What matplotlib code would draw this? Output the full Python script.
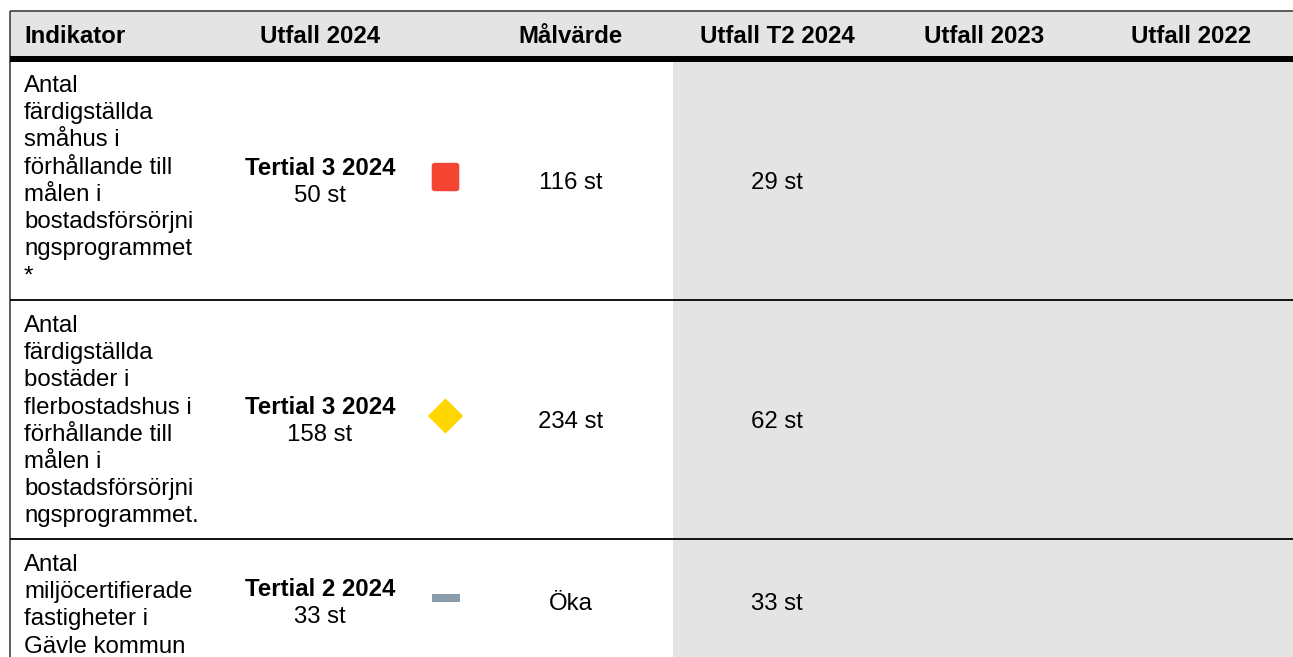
import matplotlib
matplotlib.use("Agg")
import matplotlib.pyplot as plt
from matplotlib.patches import Rectangle, FancyBboxPatch, Polygon

# ---------------- data ----------------
headers = ["Indikator", "Utfall 2024", "Målvärde", "Utfall T2 2024", "Utfall 2023", "Utfall 2022"]
indicators = [
    ["Antal", "färdigställda", "småhus i", "förhållande till", "målen i",
     "bostadsförsörjni", "ngsprogrammet", "*"],
    ["Antal", "färdigställda", "bostäder i", "flerbostadshus i", "förhållande till",
     "målen i", "bostadsförsörjni", "ngsprogrammet."],
    ["Antal", "miljöcertifierade", "fastigheter i", "Gävle kommun"],
]
periods = ["Tertial 3 2024", "Tertial 3 2024", "Tertial 2 2024"]
outcomes = ["50 st", "158 st", "33 st"]
statuses = ["red", "yellow", "neutral"]
targets = ["116 st", "234 st", "Öka"]
outcome_t2 = ["29 st", "62 st", "33 st"]
outcome_2023 = ["", "", ""]
outcome_2022 = ["", "", ""]

# ---------------- layout ----------------
W, H = 1293, 657
FONT = ["Liberation Sans", "DejaVu Sans"]
FS = 17.28  # 24 px at 100 dpi
GRAY = "#E4E4E4"
LINE_H = 27.2

fig = plt.figure(figsize=(W / 100, H / 100), dpi=100)
ax = fig.add_axes([0, 0, 1, 1])
ax.set_xlim(0, W)
ax.set_ylim(H, 0)
ax.axis("off")

left = 10
top = 11
header_bottom = 56
row_tops = [61, 301, 540]
row_bottoms = [299.5, 538.5, 700]
row_centers = [180.5, 419.5, 601.5]
gray_x = 673

col_text_x = [24, 320, 571, 777, 984, 1191]
icon_x = 445.5

# header background
ax.add_patch(Rectangle((left, top), W - left, header_bottom - top, facecolor=GRAY, edgecolor="none", zorder=0))
# gray columns body
ax.add_patch(Rectangle((gray_x, header_bottom), W - gray_x, H - header_bottom, facecolor=GRAY, edgecolor="none", zorder=0))

# borders
ax.plot([left, W], [top, top], color="#333333", lw=1.1, zorder=3, solid_capstyle="butt")
ax.plot([left, left], [top, H], color="#333333", lw=1.1, zorder=3, solid_capstyle="butt")
ax.add_patch(Rectangle((left, header_bottom), W - left, 5.5, facecolor="black", edgecolor="none", zorder=3))
for rb in row_bottoms[:2]:
    ax.plot([left, W], [rb, rb], color="black", lw=1.3, zorder=3, solid_capstyle="butt")

# header text
for i, h in enumerate(headers):
    ha = "left" if i == 0 else "center"
    ax.text(col_text_x[i], 43, h, ha=ha, va="baseline", fontsize=FS, fontweight="bold", family=FONT, color="black")

status_colors = {"red": "#F44432", "yellow": "#FFD600", "neutral": "#8A9BAB"}

for r in range(len(indicators)):
    t = row_tops[r]
    c = row_centers[r]
    # indicator lines
    for k, line in enumerate(indicators[r]):
        ax.text(col_text_x[0], t + 31 + k * LINE_H, line, ha="left", va="baseline",
                fontsize=FS, family=FONT, color="black")
    # outcome 2024
    ax.text(col_text_x[1], c - 5.5, periods[r], ha="center", va="baseline",
            fontsize=FS, fontweight="bold", family=FONT, color="black")
    ax.text(col_text_x[1], c + 21.5, outcomes[r], ha="center", va="baseline",
            fontsize=FS, family=FONT, color="black")
    # status icon
    iy = c - 3.5
    s = statuses[r]
    col = status_colors[s]
    if s == "red":
        ax.add_patch(FancyBboxPatch((icon_x - 13.8, iy - 14.2), 27.6, 28.4,
                                    boxstyle="round,pad=0,rounding_size=3",
                                    facecolor=col, edgecolor="none", zorder=4))
    elif s == "yellow":
        d = 16.5
        ax.add_patch(Polygon([(icon_x, iy - d), (icon_x + d, iy), (icon_x, iy + d), (icon_x - d, iy)],
                             closed=True, facecolor=col, edgecolor=col, lw=1.2,
                             joinstyle="round", zorder=4))
    else:
        ax.add_patch(Rectangle((icon_x - 14, iy - 4), 28, 8, facecolor=col, edgecolor="none", zorder=4))
    # target
    ax.text(col_text_x[2], c + 8.5, targets[r], ha="center", va="baseline",
            fontsize=FS, family=FONT, color="black")
    # other outcomes
    for ci, vals in zip([3, 4, 5], [outcome_t2, outcome_2023, outcome_2022]):
        if vals[r]:
            ax.text(col_text_x[ci], c + 8.5, vals[r], ha="center", va="baseline",
                    fontsize=FS, family=FONT, color="black")

fig.savefig("out.png", dpi=100)
